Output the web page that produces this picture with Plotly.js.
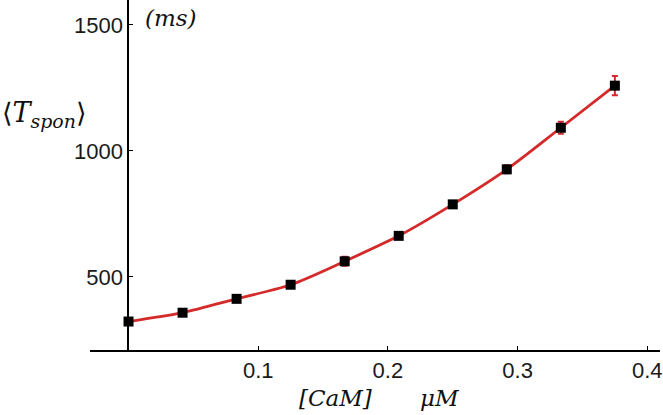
<!DOCTYPE html>
<html>
<head>
<meta charset="utf-8">
<script src="https://cdn.plot.ly/plotly-3.0.1.min.js"></script>
<style>html,body{margin:0;padding:0;background:#fff;}#chart{width:663px;height:415px;}</style>
</head>
<body>
<div id="chart"></div>
<script>
const camConc = [0, 0.041667, 0.083333, 0.125, 0.166667, 0.208333, 0.25, 0.291667, 0.333333, 0.375];
const tSpon = [323, 358, 413, 469, 562, 663, 788, 927, 1092, 1259];
const tSponErr = [6, 5, 6, 6, 18, 8, 8, 16, 24, 38];
const xTicks = [0.1, 0.2, 0.3, 0.4];
const yTicks = [500, 1000, 1500];

const red = '#d42a2a';
const data = [
  {
    x: camConc, y: tSpon, type: 'scatter', mode: 'lines',
    line: {color: red, width: 2.8, shape: 'spline', smoothing: 0.8},
    error_y: {type: 'data', array: tSponErr, visible: true, color: red, thickness: 2, width: 3},
    hoverinfo: 'skip', showlegend: false
  },
  {
    x: camConc, y: tSpon, type: 'scatter', mode: 'markers',
    marker: {symbol: 'square', size: 10, color: '#000'},
    showlegend: false
  }
];
const tickFont = {family: 'Liberation Sans, Arial, sans-serif', size: 22, color: '#1a1a1a'};
const mathFont = {family: 'DejaVu Serif, Liberation Serif, serif', size: 23, color: '#111'};
const layout = {
  width: 663, height: 415,
  margin: {l: 90, r: 3, t: 0, b: 65},
  paper_bgcolor: '#fff', plot_bgcolor: '#fff',
  showlegend: false,
  xaxis: {
    range: [-0.0297, 0.4098], tickvals: xTicks, ticktext: xTicks.map(v => v.toFixed(1)),
    ticks: 'inside', ticklen: 4, tickwidth: 1, tickcolor: '#000',
    showline: true, linecolor: '#000', linewidth: 2,
    showgrid: false, zeroline: false, tickfont: tickFont, ticklabelstandoff: 0
  },
  yaxis: {
    range: [210, 1599], tickvals: yTicks, ticktext: yTicks.map(String),
    anchor: 'free', position: 0.0675,
    ticks: 'inside', ticklen: 4, tickwidth: 1, tickcolor: '#000',
    showline: true, linecolor: '#000', linewidth: 2,
    showgrid: false, zeroline: false, tickfont: tickFont
  },
  annotations: [
    {xref: 'paper', yref: 'paper', x: (143 - 90) / 570, y: 1 - 18 / 350, xanchor: 'left', yanchor: 'middle',
     text: '<i>(ms)</i>', showarrow: false, font: mathFont},
    {xref: 'paper', yref: 'paper', x: -90 / 570, y: 1 - 115 / 350, xanchor: 'left', yanchor: 'middle',
     text: '⟨<i>T<sub>spon</sub></i>⟩', showarrow: false, font: Object.assign({}, mathFont, {size: 27})},
    {xref: 'paper', yref: 'paper', x: (297 - 90) / 570, y: -(398 - 350) / 350, xanchor: 'left', yanchor: 'middle',
     text: '<i>[CaM]</i>', showarrow: false, font: mathFont},
    {xref: 'paper', yref: 'paper', x: (418 - 90) / 570, y: -(398 - 350) / 350, xanchor: 'left', yanchor: 'middle',
     text: '<i>μM</i>', showarrow: false, font: mathFont}
  ]
};
Plotly.newPlot('chart', data, layout, {displayModeBar: false, staticPlot: true});
</script>
</body>
</html>
